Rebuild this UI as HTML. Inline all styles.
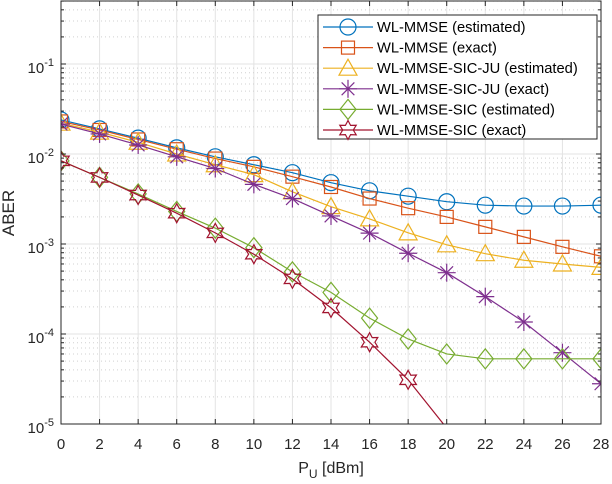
<!DOCTYPE html>
<html><head><meta charset="utf-8"><style>
html,body{margin:0;padding:0;background:#fff;}
svg{display:block;font-family:"Liberation Sans",sans-serif;}
</style></head><body>
<svg id="chart" width="612" height="484" viewBox="0 0 612 484" xmlns="http://www.w3.org/2000/svg">
<defs><clipPath id="pc"><rect x="61" y="1" width="540" height="423"/></clipPath></defs>
<g id="grid"></g>
<g id="series" clip-path="url(#pc)"></g>
<g id="axes"></g>
<g id="legend"></g>
</svg>
<script>
const xValues = [0,2,4,6,8,10,12,14,16,18,20,22,24,26,28];
const xTickLabels = ["0","2","4","6","8","10","12","14","16","18","20","22","24","26","28"];
const yTickExps = [-5,-4,-3,-2,-1];
const seriesNames = ["WL-MMSE (estimated)","WL-MMSE (exact)","WL-MMSE-SIC-JU (estimated)","WL-MMSE-SIC-JU (exact)","WL-MMSE-SIC (estimated)","WL-MMSE-SIC (exact)"];
const wlMmseEst = [2.39e-2,1.9e-2,1.5e-2,1.17e-2,9.3e-3,7.6e-3,6.2e-3,4.8e-3,3.9e-3,3.4e-3,2.95e-3,2.7e-3,2.64e-3,2.64e-3,2.7e-3];
const wlMmseExact = [2.3e-2,1.85e-2,1.45e-2,1.13e-2,8.9e-3,7.2e-3,5.6e-3,4.3e-3,3.2e-3,2.5e-3,2.0e-3,1.55e-3,1.2e-3,9.3e-4,7.3e-4];
const sicJuEst = [2.2e-2,1.75e-2,1.35e-2,1.0e-2,7.6e-3,5.9e-3,3.8e-3,2.6e-3,1.9e-3,1.33e-3,9.8e-4,7.8e-4,6.6e-4,6.0e-4,5.5e-4];
const sicJuExact = [2.15e-2,1.67e-2,1.26e-2,9.3e-3,6.9e-3,4.6e-3,3.2e-3,2.05e-3,1.32e-3,7.9e-4,4.8e-4,2.6e-4,1.36e-4,6.2e-5,2.8e-5];
const sicEst = [8.4e-3,5.5e-3,3.6e-3,2.3e-3,1.5e-3,9.1e-4,4.9e-4,2.9e-4,1.5e-4,8.8e-5,6.0e-5,5.3e-5,5.3e-5,5.3e-5,5.3e-5];
const sicExact = [8.4e-3,5.5e-3,3.5e-3,2.2e-3,1.33e-3,7.7e-4,4.1e-4,1.95e-4,8.1e-5,3.1e-5,9e-6];

const NS="http://www.w3.org/2000/svg";
const X0=61,X1=601,Y0=424,DEC=90,XMIN=0,XMAX=28;
function xs(v){return X0+(v-XMIN)/(XMAX-XMIN)*(X1-X0);}
function ys(v){return Y0-(Math.log10(v)+5)*DEC;}
function mk(tag,attrs,parent){const e=document.createElementNS(NS,tag);for(const k in attrs)e.setAttribute(k,attrs[k]);parent.appendChild(e);return e;}
const grid=document.getElementById('grid'),axes=document.getElementById('axes'),ser=document.getElementById('series'),leg=document.getElementById('legend');

xValues.forEach((v,i)=>{
 const l=mk('line',{x1:xs(v),x2:xs(v),y1:1,y2:Y0,stroke:'#e3e3e3','stroke-width':1},grid);
 
 
});
for(let e=-5;e<0;e++){
 for(let m=1;m<=9;m++){
  const v=m*Math.pow(10,e); const y=ys(v); if(y<1) continue;
  const l=mk('line',{x1:X0,x2:X1,y1:y,y2:y,stroke:m===1?'#e3e3e3':'#d0d0d0','stroke-width':1,'stroke-dasharray':m===1?'':'1,3'},grid);
  
  
  const len=m===1?5:3;
  mk('line',{x1:X0,x2:X0+len,y1:y,y2:y,stroke:'#262626'},axes);
  mk('line',{x1:X1,x2:X1-len,y1:y,y2:y,stroke:'#262626'},axes);
 }
}
const box=mk('rect',{x:X0,y:1,width:X1-X0,height:Y0-1,fill:'none',stroke:'#262626','stroke-width':1},axes);


xValues.forEach((v,i)=>{
 mk('line',{x1:xs(v),x2:xs(v),y1:Y0,y2:Y0-5,stroke:'#262626'},axes);
 mk('line',{x1:xs(v),x2:xs(v),y1:1,y2:6,stroke:'#262626'},axes);
 const t=mk('text',{x:xs(v),y:449,'text-anchor':'middle','font-size':15,fill:'#262626'},axes);
 t.textContent=xTickLabels[i];
 
 
});
yTickExps.forEach(e=>{
 const y=ys(Math.pow(10,e));
 const t=mk('text',{x:54,y:y+9,'text-anchor':'end','font-size':15,fill:'#262626'},axes);
 
 
 const a=document.createElementNS(NS,'tspan');a.textContent='10';t.appendChild(a);
 const b=document.createElementNS(NS,'tspan');b.setAttribute('font-size','11');b.setAttribute('dy','-7');b.textContent=String(e);t.appendChild(b);
});
const xt=mk('text',{x:331,y:473,'text-anchor':'middle','font-size':16,fill:'#262626'},axes);


xt.innerHTML='P<tspan font-size="12" dy="5">U</tspan><tspan dy="-5"> [dBm]</tspan>';
const yt=mk('text',{x:0,y:0,'text-anchor':'middle','font-size':17,fill:'#262626',transform:'translate(14,213) rotate(-90)'},axes);
yt.textContent='ABER';



function marker(type,cx,cy,color,parent){
 let e;
 if(type==='o') e=mk('circle',{cx:cx,cy:cy,r:8,fill:'none',stroke:color,'stroke-width':1.2},parent);
 else if(type==='s') e=mk('rect',{x:cx-6.5,y:cy-6.5,width:13,height:13,fill:'none',stroke:color,'stroke-width':1.2},parent);
 else if(type==='^') e=mk('polygon',{points:`${cx},${cy-9} ${cx+9},${cy+7} ${cx-9},${cy+7}`,fill:'none',stroke:color,'stroke-width':1.2},parent);
 else if(type==='d') e=mk('polygon',{points:`${cx},${cy-10} ${cx+8},${cy} ${cx},${cy+10} ${cx-8},${cy}`,fill:'none',stroke:color,'stroke-width':1.2},parent);
 else if(type==='*'){e=mk('g',{},parent);
  for(let k=0;k<4;k++){const a=k*Math.PI/4;mk('line',{x1:cx-9*Math.cos(a),y1:cy-9*Math.sin(a),x2:cx+9*Math.cos(a),y2:cy+9*Math.sin(a),stroke:color,'stroke-width':1.2},e);}
 }
 else if(type==='h'){let p=[];for(let k=0;k<12;k++){const r=k%2===0?9.5:5.3;const a=-Math.PI/2+k*Math.PI/6;p.push((cx+r*Math.cos(a)).toFixed(1)+','+(cy+r*Math.sin(a)).toFixed(1));}
  e=mk('polygon',{points:p.join(' '),fill:'none',stroke:color,'stroke-width':1.2},parent);}
 return e;
}
const allSeries=[wlMmseEst,wlMmseExact,sicJuEst,sicJuExact,sicEst,sicExact];
const colors=['#0072BD','#D95319','#EDB120','#7E2F8E','#77AC30','#A2142F'];
const markers=['o','s','^','*','d','h'];
const slugs=['wl-mmse-estimated','wl-mmse-exact','sic-ju-estimated','sic-ju-exact','sic-estimated','sic-exact'];
allSeries.forEach((vals,si)=>{
 const g=mk('g',{},ser);
 
 
 const pts=vals.map((v,i)=>xs(xValues[i])+','+ys(v)).join(' ');
 const pl=mk('polyline',{points:pts,fill:'none',stroke:colors[si],'stroke-width':1.2},g);
 
 
 vals.forEach((v,i)=>{
  const py=ys(v);
  if(py>Y0||py<1) return;
  const m=marker(markers[si],xs(xValues[i]),py,colors[si],g);
  
  
 });
});
const lb=mk('rect',{x:318,y:15,width:279,height:124,fill:'#fff',stroke:'#262626','stroke-width':1},leg);


seriesNames.forEach((n,i)=>{
 const y=27+i*20.6;
 const g=mk('g',{},leg);
 
 
 mk('line',{x1:323,x2:373,y1:y,y2:y,stroke:colors[i],'stroke-width':1.2},g);
 marker(markers[i],348,y,colors[i],g);
 const t=mk('text',{x:377,y:y+5,'font-size':14.7,fill:'#000'},g);
 t.textContent=n;
 
 
});
</script>
</body></html>
